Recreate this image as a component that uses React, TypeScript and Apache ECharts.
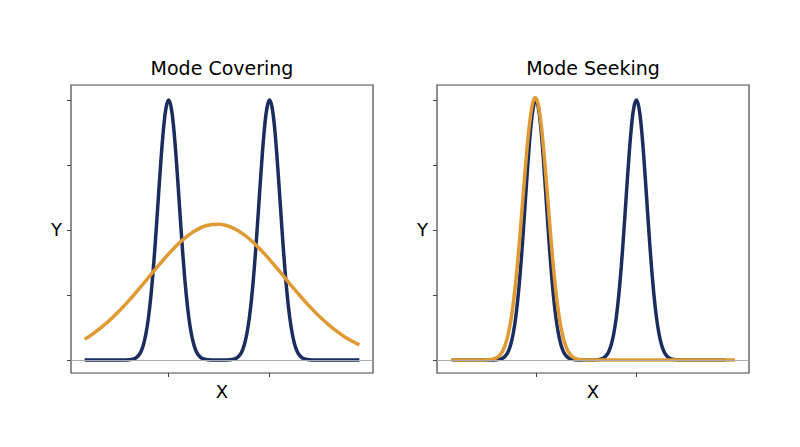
import React, { useEffect, useRef } from "react";
import * as echarts from "echarts";

// Target bimodal distribution (same in both panels)
const targetMixture: number[][] = [
  [-5.33, 0], [-3.8, 0], [-3.7, 0.0003], [-3.6, 0.0007], [-3.5, 0.002], [-3.4, 0.004],
  [-3.3, 0.008], [-3.2, 0.017], [-3.1, 0.032], [-3.0, 0.059], [-2.9, 0.101], [-2.8, 0.163],
  [-2.7, 0.249], [-2.6, 0.36], [-2.5, 0.492], [-2.4, 0.635], [-2.3, 0.775], [-2.2, 0.893],
  [-2.1, 0.972], [-2.0, 1.0], [-1.9, 0.972], [-1.8, 0.893], [-1.7, 0.775], [-1.6, 0.635],
  [-1.5, 0.492], [-1.4, 0.36], [-1.3, 0.249], [-1.2, 0.163], [-1.1, 0.101], [-1.0, 0.059],
  [-0.9, 0.032], [-0.8, 0.017], [-0.7, 0.008], [-0.6, 0.004], [-0.5, 0.002], [-0.4, 0.0007],
  [-0.3, 0.0003], [-0.2, 0], [0.2, 0], [0.3, 0.0003], [0.4, 0.0007], [0.5, 0.002],
  [0.6, 0.004], [0.7, 0.008], [0.8, 0.017], [0.9, 0.032], [1.0, 0.059], [1.1, 0.101],
  [1.2, 0.163], [1.3, 0.249], [1.4, 0.36], [1.5, 0.492], [1.6, 0.635], [1.7, 0.775],
  [1.8, 0.893], [1.9, 0.972], [2.0, 1.0], [2.1, 0.972], [2.2, 0.893], [2.3, 0.775],
  [2.4, 0.635], [2.5, 0.492], [2.6, 0.36], [2.7, 0.249], [2.8, 0.163], [2.9, 0.101],
  [3.0, 0.059], [3.1, 0.032], [3.2, 0.017], [3.3, 0.008], [3.4, 0.004], [3.5, 0.002],
  [3.6, 0.0007], [3.7, 0.0003], [3.8, 0], [5.56, 0],
];

// Wide fit (mode covering)
const coveringFit: number[][] = [
  [-5.33, 0.0801], [-5.0, 0.1008], [-4.5, 0.1387], [-4.0, 0.1843], [-3.5, 0.2367],
  [-3.0, 0.2938], [-2.5, 0.3523], [-2.0, 0.4083], [-1.5, 0.4572], [-1.0, 0.4947],
  [-0.5, 0.5173], [0.0, 0.5226], [0.5, 0.5102], [1.0, 0.4814], [1.5, 0.4388],
  [2.0, 0.3865], [2.5, 0.329], [3.0, 0.2706], [3.5, 0.215], [4.0, 0.1651],
  [4.5, 0.1226], [5.0, 0.0879], [5.56, 0.0581],
];

// Narrow fit (mode seeking)
const seekingFit: number[][] = [
  [-5.37, 0], [-4.12, 0], [-4.02, 0.0003], [-3.92, 0.001], [-3.82, 0.002], [-3.72, 0.003],
  [-3.62, 0.006], [-3.52, 0.011], [-3.42, 0.02], [-3.32, 0.034], [-3.22, 0.057], [-3.12, 0.09],
  [-3.02, 0.137], [-2.92, 0.2], [-2.82, 0.281], [-2.72, 0.379], [-2.62, 0.492], [-2.52, 0.613],
  [-2.42, 0.733], [-2.32, 0.844], [-2.22, 0.932], [-2.12, 0.99], [-2.02, 1.01], [-1.92, 0.99],
  [-1.82, 0.932], [-1.72, 0.844], [-1.62, 0.733], [-1.52, 0.613], [-1.42, 0.492], [-1.32, 0.379],
  [-1.22, 0.281], [-1.12, 0.2], [-1.02, 0.137], [-0.92, 0.09], [-0.82, 0.057], [-0.72, 0.034],
  [-0.62, 0.02], [-0.52, 0.011], [-0.42, 0.006], [-0.32, 0.003], [-0.22, 0.002], [-0.12, 0.001],
  [-0.02, 0.0003], [0.08, 0], [5.92, 0],
];

const panelTitles = ["Mode Covering", "Mode Seeking"];
const xTickValues = [-2, 2];
const yTickValues = [0, 0.25, 0.5, 0.75, 1];

const FONT = "DejaVu Sans";
const BLUE = "#1b2d5e";
const ORANGE = "#e09a33";
const FRAME = "#444";

export default function App() {
  const ref = useRef<HTMLDivElement>(null);

  useEffect(() => {
    if (!ref.current) return;
    const chart = echarts.init(ref.current, undefined, { renderer: "svg" });

    const grids = [
      { left: 71, top: 85, width: 302, height: 288 },
      { left: 437, top: 85, width: 312, height: 288 },
    ];
    const xRanges = [
      [-5.87, 6.1],
      [-5.93, 6.48],
    ];
    const centers = grids.map((g) => g.left + g.width / 2);

    const mkX = (i: number) => ({
      type: "value",
      gridIndex: i,
      min: xRanges[i][0],
      max: xRanges[i][1],
      position: "bottom",
      axisLine: { show: false, onZero: false },
      axisTick: {
        show: true,
        length: 4,
        customValues: xTickValues,
        lineStyle: { color: FRAME, width: 1 },
      },
      axisLabel: { show: false },
      splitLine: { show: false },
      name: "X",
      nameLocation: "middle",
      nameGap: 9,
      nameTextStyle: { fontSize: 18, color: "#000", fontFamily: FONT },
    });
    const mkY = (i: number) => ({
      type: "value",
      gridIndex: i,
      min: -0.05,
      max: 1.058,
      position: "left",
      axisLine: { show: false, onZero: false },
      axisTick: {
        show: true,
        length: 4,
        customValues: yTickValues,
        lineStyle: { color: FRAME, width: 1 },
      },
      axisLabel: { show: false },
      splitLine: { show: false },
      name: "Y",
      nameLocation: "middle",
      nameRotate: 0,
      nameGap: 9,
      nameTextStyle: { fontSize: 18, color: "#000", fontFamily: FONT },
    });

    const baseline = {
      silent: true,
      symbol: ["none", "none"],
      label: { show: false },
      lineStyle: { color: "#aaaaaa", width: 1, type: "solid" },
      data: [{ yAxis: 0 }],
    };

    const lineSeries = (i: number, data: number[][], color: string, z: number, extra: any = {}) => ({
      type: "line",
      xAxisIndex: i,
      yAxisIndex: i,
      data,
      showSymbol: false,
      smooth: 0.4,
      z,
      lineStyle: { color, width: 3.5 },
      itemStyle: { color },
      ...extra,
    });

    chart.setOption({
      animation: false,
      backgroundColor: "#fff",
      title: panelTitles.map((t, i) => ({
        text: t,
        left: centers[i],
        top: 58,
        padding: 0,
        textAlign: "center",
        textStyle: { fontSize: 19, fontWeight: "normal", color: "#000", fontFamily: FONT },
      })),
      grid: grids.map((g) => ({
        ...g,
        show: true,
        borderColor: FRAME,
        borderWidth: 1.2,
        backgroundColor: "transparent",
        containLabel: false,
      })),
      xAxis: [mkX(0), mkX(1)],
      yAxis: [mkY(0), mkY(1)],
      series: [
        lineSeries(0, targetMixture, BLUE, 2, { markLine: baseline }),
        lineSeries(0, coveringFit, ORANGE, 3),
        lineSeries(1, targetMixture, BLUE, 2, { markLine: baseline }),
        lineSeries(1, seekingFit, ORANGE, 3),
      ],
    });

    return () => chart.dispose();
  }, []);

  return <div ref={ref} style={{ width: 800, height: 447, margin: -8 }} />;
}
